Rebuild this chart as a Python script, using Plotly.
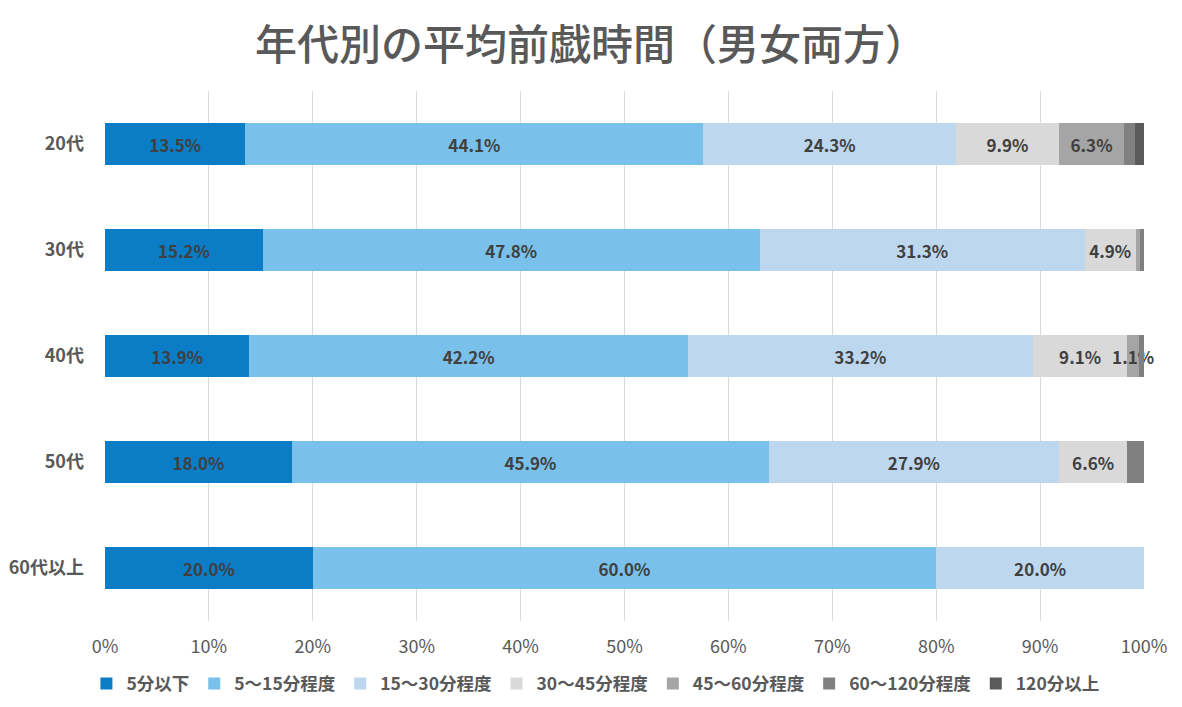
import plotly.graph_objects as go

categories = ["20代", "30代", "40代", "50代", "60代以上"]
series_names = ["5分以下", "5～15分程度", "15～30分程度", "30～45分程度", "45～60分程度", "60～120分程度", "120分以上"]
v_5 = [13.5, 15.2, 13.9, 18.0, 20.0]
v_5_15 = [44.1, 47.8, 42.2, 45.9, 60.0]
v_15_30 = [24.3, 31.3, 33.2, 27.9, 20.0]
v_30_45 = [9.9, 4.9, 9.1, 6.6, 0.0]
v_45_60 = [6.3, 0.4, 1.1, 0.0, 0.0]
v_60_120 = [1.0, 0.4, 0.5, 1.6, 0.0]
v_120 = [0.9, 0.0, 0.0, 0.0, 0.0]
# which labels are shown on the chart
show_label = [
    [True, True, True, True, True],
    [True, True, True, True, True],
    [True, True, True, True, True],
    [True, True, True, True, False],
    [True, False, True, False, False],
    [False, False, False, False, False],
    [False, False, False, False, False],
]
colors = ["#0B7DC6", "#79C0EA", "#BDD7EE", "#D9D9D9", "#A5A5A5", "#808080", "#5A5A5A"]
values = [v_5, v_5_15, v_15_30, v_30_45, v_45_60, v_60_120, v_120]

fig = go.Figure()
for name, vals, col, show in zip(series_names, values, colors, show_label):
    texts = [f"{v:.1f}%" if s and v > 0 else "" for v, s in zip(vals, show)]
    fig.add_trace(go.Bar(
        y=categories, x=[v / 100 for v in vals], name=name, orientation="h",
        marker=dict(color=col, line=dict(width=0)),
        text=texts, textposition="inside", insidetextanchor="middle",
        textangle=0, constraintext="none",
        textfont=dict(family="Noto Sans CJK JP", size=17, color="#404040", weight="bold"),
        cliponaxis=False,
    ))

fig.update_layout(
    barmode="stack",
    bargap=0.6,
    width=1166, height=691,
    margin=dict(l=97, r=30, t=83, b=78, autoexpand=False),
    paper_bgcolor="white", plot_bgcolor="white",
    title=dict(text="年代別の平均前戯時間（男女両方）", x=0.5, xanchor="center",
               y=0.9465, yanchor="middle",
               font=dict(family="Noto Sans CJK JP", size=42, color="#595959", weight=500)),
    font=dict(family="Noto Sans CJK JP", color="#595959"),
    xaxis=dict(range=[0, 1], tickformat=".0%", dtick=0.1, showgrid=True, automargin=False,
               gridcolor="#D9D9D9", gridwidth=1, zeroline=False,
               tickfont=dict(size=18, color="#595959"), ticks="", ticklabelstandoff=13),
    yaxis=dict(autorange="reversed", showgrid=False, zeroline=False, automargin=False,
               showline=False, ticks="", ticklabelstandoff=20,
               tickfont=dict(size=18, color="#595959", weight="bold")),
    legend=dict(orientation="h", x=0.472, xanchor="center", y=-0.118, yanchor="middle",
                font=dict(size=17.5, color="#595959", weight="bold"),
                traceorder="normal", itemwidth=30),
    showlegend=True,
)
fig.write_html("out.html")
